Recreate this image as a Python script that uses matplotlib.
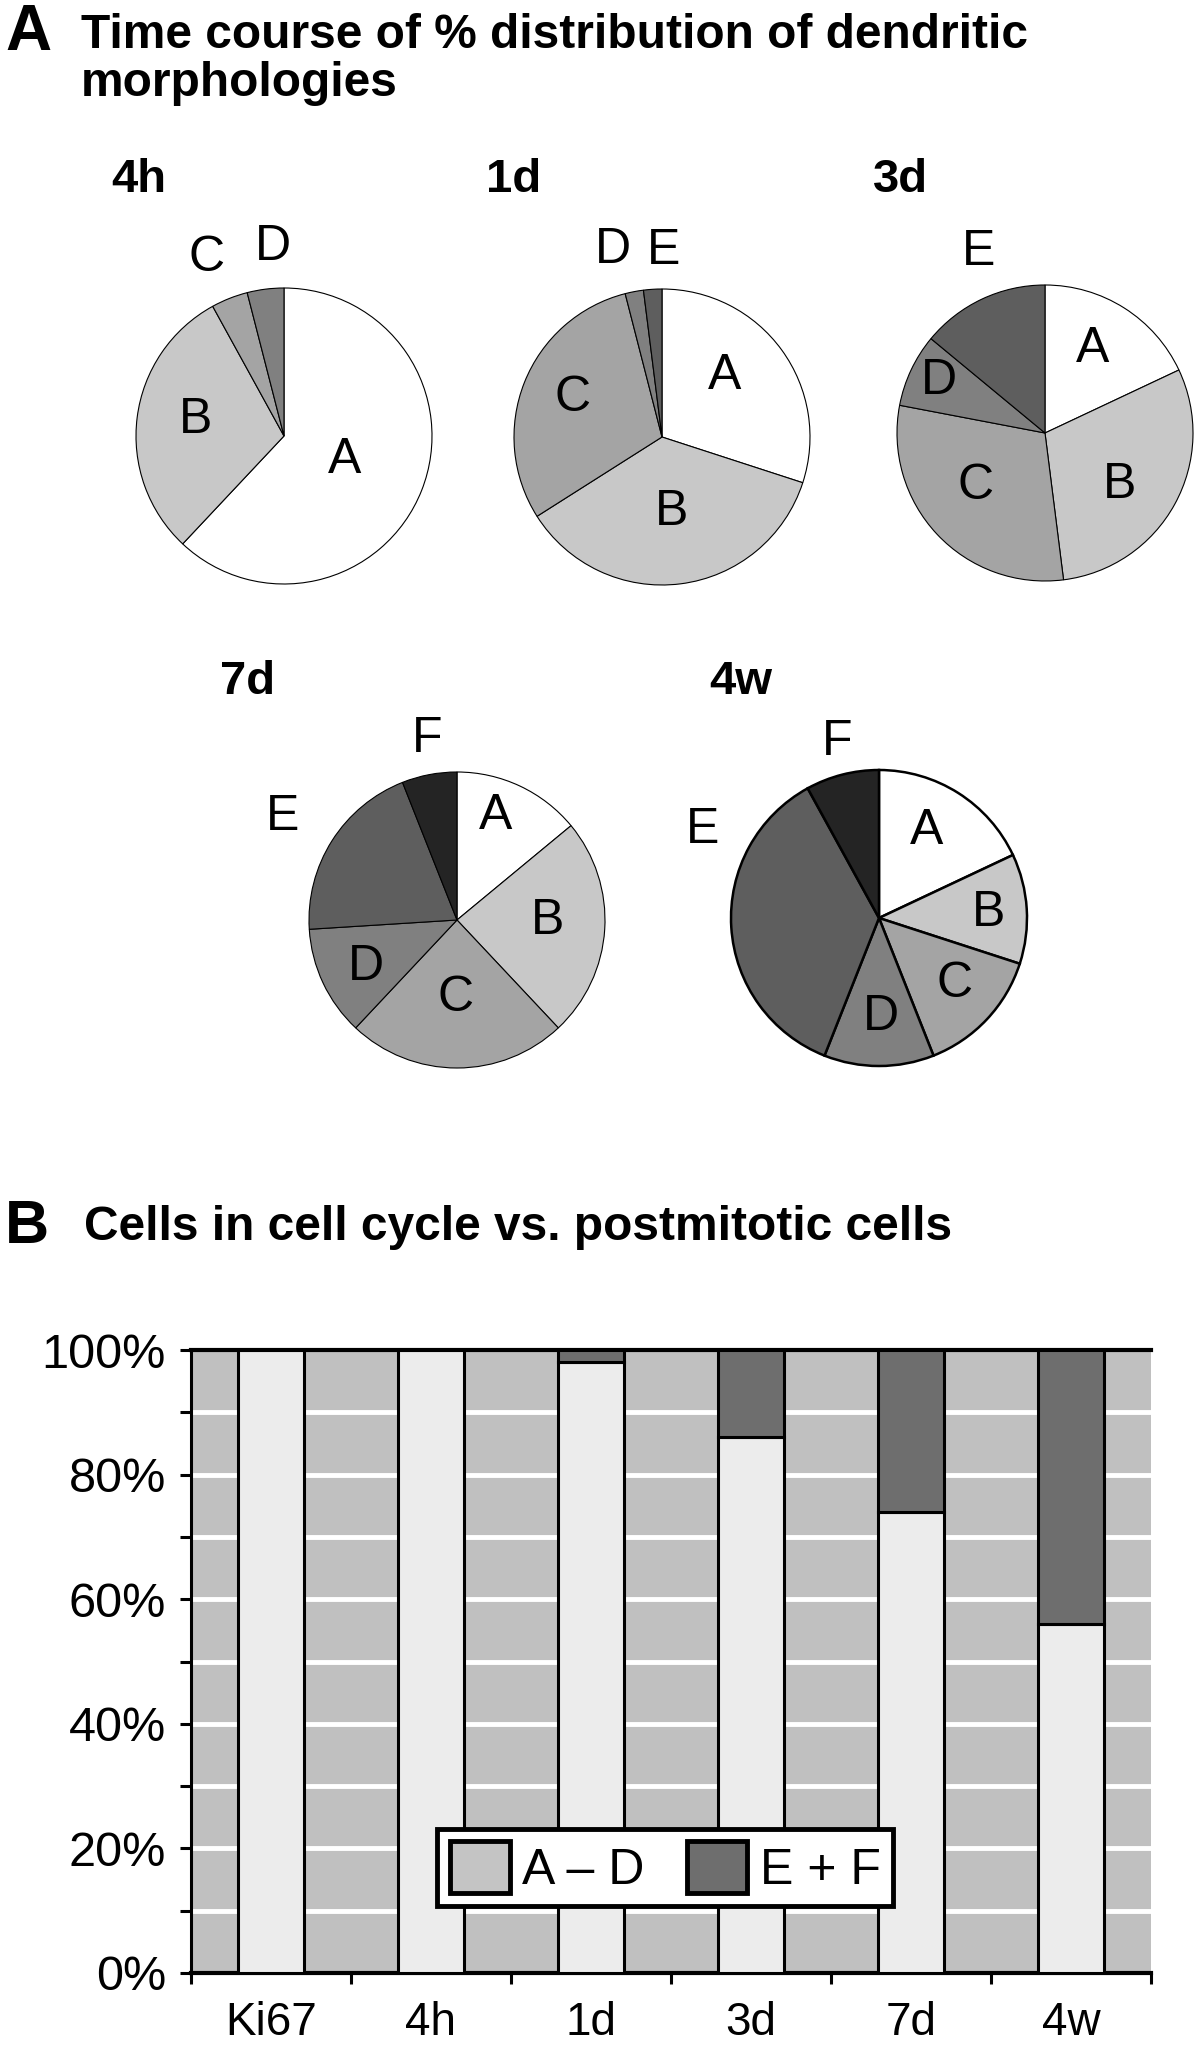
import numpy as np
import matplotlib
matplotlib.use("Agg")
import matplotlib.pyplot as plt
from matplotlib.patches import Patch

plt.rcParams['font.family'] = ['Liberation Sans', 'DejaVu Sans']

W, H = 1200, 2055

# % distribution of dendritic morphologies (classes A..F)
shares_4h = [62, 30, 4, 4]
shares_1d = [30, 36, 30, 2, 2]
shares_3d = [18, 30, 30, 8, 14]
shares_7d = [14, 24, 24, 12, 20, 6]
shares_4w = [18, 12, 14, 12, 36, 8]
classes = ["A", "B", "C", "D", "E", "F"]
class_colors = ["#ffffff", "#c8c8c8", "#a4a4a4", "#808080", "#5e5e5e", "#242424"]

# cells in cell cycle (A-D) vs postmitotic (E+F), in %
bar_groups = ["Ki67", "4h", "1d", "3d", "7d", "4w"]
pct_AD = [100, 100, 98, 86, 74, 56]
pct_EF = [0, 0, 2, 14, 26, 44]

fig = plt.figure(figsize=(W / 100, H / 100), dpi=100)


def px_axes(x0, y0, w, h):
    return fig.add_axes([x0 / W, 1 - (y0 + h) / H, w / W, h / H])


def fig_text(x, y, s, **kw):
    fig.text(x / W, 1 - y / H, s, va="baseline", **kw)


# ---- panel A ----
fig_text(5, 50, "A", fontsize=46, fontweight="bold")
fig_text(81, 48, "Time course of % distribution of dendritic", fontsize=34.5, fontweight="bold")
fig_text(81, 96, "morphologies", fontsize=34.5, fontweight="bold")

R = 148
# name, shares, centre (px), title x, title baseline, edge width, label (distance, angle nudge)
pies = [
    ("4h", shares_4h, (284, 436), 111, 192, 0.8,
     [(0.44, 0), (0.61, -3), (1.31, 2), (1.28, -4)]),
    ("1d", shares_1d, (662, 437), 486, 192, 0.8,
     [(0.59, 8), (0.51, 0), (0.66, -2), (1.31, 4), (1.26, -4)]),
    ("3d", shares_3d, (1045, 433), 873, 192, 0.8,
     [(0.65, 3), (0.61, -6), (0.59, -6), (0.80, -1), (1.30, -5)]),
    ("7d", shares_7d, (457, 920), 220, 694, 0.8,
     [(0.75, 5), (0.61, 3), (0.53, -1), (0.69, 2), (1.37, 2), (1.24, -1.5)]),
    ("4w", shares_4w, (879, 918), 709, 694, 1.8,
     [(0.67, 4), (0.74, -1), (0.68, 2), (0.67, 1), (1.33, -30), (1.22, -1)]),
]

for name, shares, (cx, cy), tx, ty, lw, lab in pies:
    n = len(shares)
    ax = px_axes(cx - R, cy - R, 2 * R, 2 * R)
    ax.pie(shares, colors=class_colors[:n], startangle=90, counterclock=False,
           radius=1, wedgeprops=dict(edgecolor="black", linewidth=lw))
    ax.set_xlim(-1, 1)
    ax.set_ylim(-1, 1)
    ax.set_axis_off()
    cum = np.cumsum([0] + list(shares)) / np.sum(shares) * 360
    for i in range(n):
        mid = 90 - (cum[i] + cum[i + 1]) / 2 + lab[i][1]
        d = lab[i][0]
        ax.text(d * np.cos(np.radians(mid)), d * np.sin(np.radians(mid)), classes[i],
                ha="center", va="center", fontsize=36, clip_on=False)
    fig_text(tx, ty, name, fontsize=34, fontweight="bold")

# ---- panel B ----
fig_text(5, 1243, "B", fontsize=44, fontweight="bold")
fig_text(84, 1240, "Cells in cell cycle vs. postmitotic cells", fontsize=34.5, fontweight="bold")

ax = px_axes(191, 1350, 960, 623)
x = np.arange(len(bar_groups))
ax.set_facecolor("#c0c0c0")
ax.bar(x, pct_AD, width=0.41, color="#ececec", edgecolor="black", linewidth=2.2, zorder=3)
ax.bar(x, pct_EF, bottom=pct_AD, width=0.41, color="#6e6e6e", edgecolor="black",
       linewidth=2.2, zorder=3)
ax.set_xlim(-0.5, len(bar_groups) - 0.5)
ax.set_ylim(0, 100)
for yv in range(10, 100, 10):
    ax.axhline(yv, color="white", linewidth=3.5, zorder=1)

ax.set_yticks(range(0, 101, 20))
ax.set_yticklabels([f"{v}%" for v in range(0, 101, 20)])
ax.set_yticks(range(10, 100, 20), minor=True)
ax.set_xticks(x)
ax.set_xticklabels(bar_groups)
ax.set_xticks(np.arange(-0.5, len(bar_groups), 1), minor=True)
ax.tick_params(axis="y", which="both", direction="out", length=8, width=2.2,
               labelsize=35, pad=10)
ax.tick_params(axis="x", which="major", length=0, labelsize=33, pad=20)
ax.tick_params(axis="x", which="minor", direction="out", length=8, width=2.2)
ax.spines["right"].set_visible(False)
ax.spines["top"].set_linewidth(3)
ax.spines["bottom"].set_linewidth(3)
ax.spines["left"].set_linewidth(2.2)

handles = [Patch(facecolor="#c4c4c4", edgecolor="black", linewidth=3.5),
           Patch(facecolor="#6e6e6e", edgecolor="black", linewidth=3.5)]
leg = ax.legend(handles, ["A \u2013 D", "E + F"], loc="center", bbox_to_anchor=(0.494, 0.169),
                ncol=2, fontsize=36, frameon=True, fancybox=False, framealpha=1,
                edgecolor="black", handlelength=1.2, handleheight=1.2, handletextpad=0.25,
                columnspacing=0.85, borderpad=0.25, borderaxespad=0)
leg.get_frame().set_linewidth(3.5)

fig.savefig("out.png", dpi=100)
